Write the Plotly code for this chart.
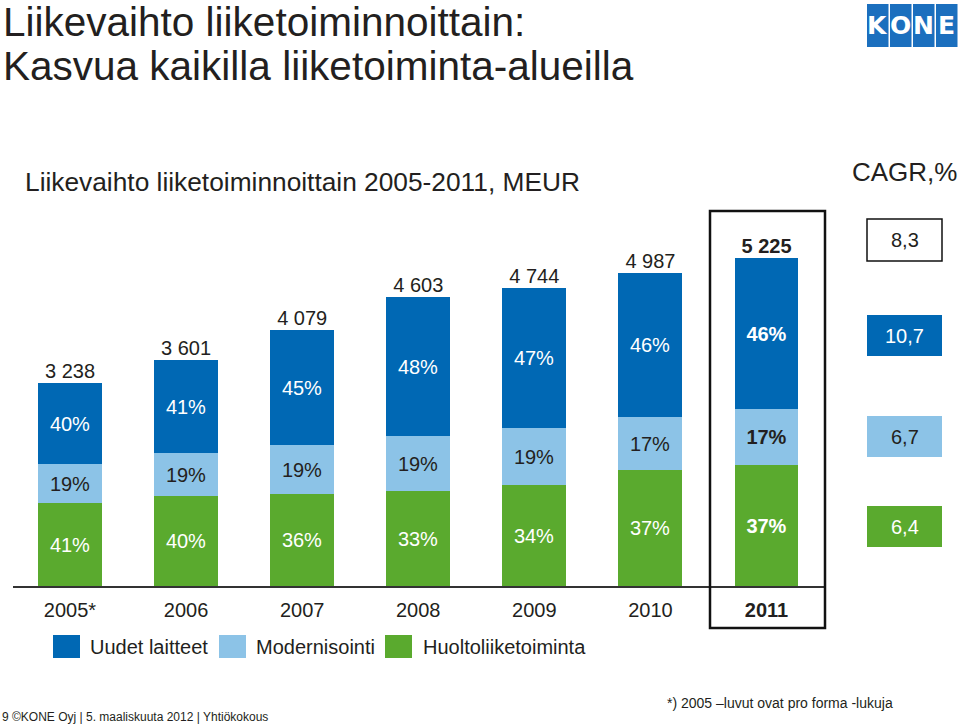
import plotly.graph_objects as go

# ---- data ----
years = ["2005*", "2006", "2007", "2008", "2009", "2010", "2011"]
totals = [3238, 3601, 4079, 4603, 4744, 4987, 5225]
pct_new = [40, 41, 45, 48, 47, 46, 46]          # Uudet laitteet
pct_mod = [19, 19, 19, 19, 19, 17, 17]          # Modernisointi
pct_srv = [41, 40, 36, 33, 34, 37, 37]          # Huoltoliiketoiminta
series_names = ["Uudet laitteet", "Modernisointi", "Huoltoliiketoiminta"]
cagr_total = "8,3"
cagr_values = ["10,7", "6,7", "6,4"]  # new, mod, service

# ---- style ----
C_NEW = "#0068B4"
C_MOD = "#8CC3E7"
C_SRV = "#5AAA2E"
FONT = "Liberation Sans, Arial, Helvetica, sans-serif"
TXT = "#231F20"
W, H = 960, 727
BASE = 586  # pixel row of the baseline


def X(px):
    return px / W


def Y(py):
    return (BASE - py) / BASE


def seg(total, pct):
    return [t * p / 100 for t, p in zip(total, pct)]


def labels(pcts):
    out = []
    for i, p in enumerate(pcts):
        s = f"{p}%"
        out.append(f"<b>{s}</b>" if i == len(pcts) - 1 else s)
    return out


fig = go.Figure()
for name, pct, col, tcol in [
    (series_names[2], pct_srv, C_SRV, "white"),
    (series_names[1], pct_mod, C_MOD, TXT),
    (series_names[0], pct_new, C_NEW, "white"),
]:
    fig.add_trace(go.Bar(
        x=years, y=seg(totals, pct), name=name, marker=dict(color=col, line=dict(width=0)),
        text=labels(pct), textposition="inside", insidetextanchor="middle",
        textangle=0, constraintext="none",
        insidetextfont=dict(family=FONT, size=20, color=tcol),
        width=0.55, showlegend=False, hoverinfo="skip",
    ))

tot_txt = [f"{t:,}".replace(",", " ") for t in totals]
tot_txt[-1] = f"<b>{tot_txt[-1]}</b>"
fig.add_trace(go.Scatter(
    x=years, y=totals, mode="text", text=tot_txt, textposition="top center",
    textfont=dict(family=FONT, size=20, color=TXT), showlegend=False, hoverinfo="skip",
    cliponaxis=False,
))

ticktext = years[:-1] + [f"<b>{years[-1]}</b>"]

shapes = []
ann = []

# highlight box around 2011
shapes.append(dict(type="rect", xref="paper", yref="paper", x0=X(710), x1=X(825),
                   y0=Y(628), y1=Y(211), line=dict(color="#111", width=2.5)))

# CAGR boxes
cagr_boxes = [
    (cagr_total, 219, 261, "white", "#111", TXT),
    (cagr_values[0], 315, 356, C_NEW, None, "white"),
    (cagr_values[1], 416, 457, C_MOD, None, TXT),
    (cagr_values[2], 506, 547, C_SRV, None, "white"),
]
for txt, y0, y1, fill, border, tc in cagr_boxes:
    shapes.append(dict(type="rect", xref="paper", yref="paper", x0=X(867), x1=X(942),
                       y0=Y(y1), y1=Y(y0), fillcolor=fill,
                       line=dict(color=border or fill, width=1.5 if border else 0)))
    ann.append(dict(x=X(904.5), y=Y((y0 + y1) / 2), xref="paper", yref="paper",
                    text=txt, showarrow=False, xanchor="center", yanchor="middle",
                    font=dict(family=FONT, size=20, color=tc)))

# legend (manual)
leg = [(series_names[0], C_NEW, 53, 88), (series_names[1], C_MOD, 219, 254),
       (series_names[2], C_SRV, 385, 421)]
for name, col, sx, tx in leg:
    shapes.append(dict(type="rect", xref="paper", yref="paper", x0=X(sx), x1=X(sx + 27),
                       y0=Y(658), y1=Y(635), fillcolor=col, line=dict(width=0)))
    ann.append(dict(x=X(tx), y=Y(647), xref="paper", yref="paper", text=name,
                    showarrow=False, xanchor="left", yanchor="middle",
                    font=dict(family=FONT, size=20, color=TXT)))

# titles
ann.append(dict(x=X(1), y=Y(22), xref="paper", yref="paper", text="Liikevaihto liiketoiminnoittain:",
                showarrow=False, xanchor="left", yanchor="middle",
                font=dict(family=FONT, size=40.5, color=TXT)))
ann.append(dict(x=X(1), y=Y(66), xref="paper", yref="paper", text="Kasvua kaikilla liiketoiminta-alueilla",
                showarrow=False, xanchor="left", yanchor="middle",
                font=dict(family=FONT, size=40.5, color=TXT)))
ann.append(dict(x=X(23), y=Y(182), xref="paper", yref="paper",
                text="Liikevaihto liiketoiminnoittain 2005-2011, MEUR",
                showarrow=False, xanchor="left", yanchor="middle",
                font=dict(family=FONT, size=26.3, color=TXT)))
ann.append(dict(x=X(959), y=Y(172), xref="paper", yref="paper", text="CAGR,%",
                showarrow=False, xanchor="right", yanchor="middle",
                font=dict(family=FONT, size=26, color=TXT)))

# footers
ann.append(dict(x=X(0), y=Y(717), xref="paper", yref="paper",
                text="9 ©KONE Oyj | 5. maaliskuuta 2012 | Yhtiökokous",
                showarrow=False, xanchor="left", yanchor="middle",
                font=dict(family=FONT, size=12, color=TXT)))
ann.append(dict(x=X(780), y=Y(703), xref="paper", yref="paper",
                text="*) 2005 –luvut ovat pro forma -lukuja",
                showarrow=False, xanchor="center", yanchor="middle",
                font=dict(family=FONT, size=14, color=TXT)))

# KONE logo
for i, letter in enumerate("KONE"):
    x0 = 867 + i * 23
    shapes.append(dict(type="rect", xref="paper", yref="paper", x0=X(x0), x1=X(x0 + 21.5),
                       y0=Y(47), y1=Y(4), fillcolor="#1B6FBE", line=dict(width=0)))
    ann.append(dict(x=X(x0 + 10.75), y=Y(26), xref="paper", yref="paper", text=f"<b>{letter}</b>",
                    showarrow=False, xanchor="center", yanchor="middle",
                    font=dict(family="DejaVu Sans, Liberation Sans", size=25, color="white")))

fig.update_layout(
    width=W, height=H, barmode="stack", bargap=0,
    margin=dict(l=0, r=0, t=0, b=H - BASE, pad=0),
    paper_bgcolor="white", plot_bgcolor="white",
    shapes=shapes, annotations=ann,
    xaxis=dict(domain=[X(13), X(825)], range=[-0.491, 6.504], type="category",
               tickvals=years, ticktext=ticktext, showline=True, linecolor="#333",
               linewidth=1.5, ticks="", showgrid=False, zeroline=False,
               tickfont=dict(family=FONT, size=20, color=TXT), ticklabelstandoff=5),
    yaxis=dict(range=[0, 5225 * BASE / 328], visible=False, showgrid=False, zeroline=False),
    uniformtext=dict(mode=False),
)

fig.write_html("out.html", config={"displayModeBar": False},
               post_script="document.body.style.margin='0';document.body.style.overflow='hidden';")
